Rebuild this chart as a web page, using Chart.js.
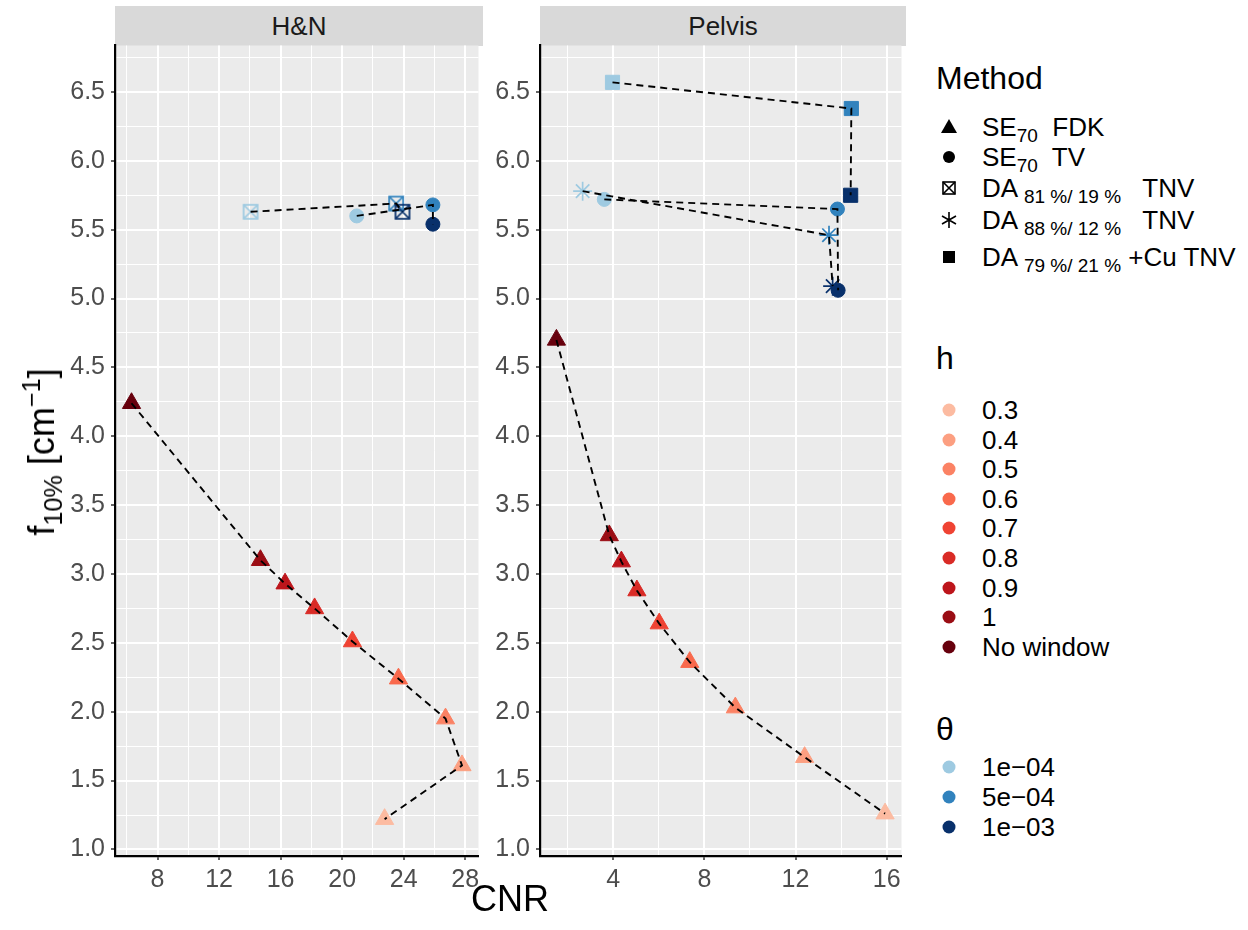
<!DOCTYPE html>
<html>
<head>
<meta charset="utf-8">
<script src="https://cdn.jsdelivr.net/npm/chart.js@4.4.1/dist/chart.umd.min.js"></script>
<style>
  body { margin: 0; background: #fff; font-family: "Liberation Sans", Arial, sans-serif; }
  #wrap { position: relative; width: 1248px; height: 930px; overflow: hidden; }
  .panel { position: absolute; }
  .strip { position: absolute; background: #D9D9D9; color: #1A1A1A; font-size: 26px; text-align: center; line-height: 40px; }
  .ttl { position: absolute; color: #000; font-size: 36px; white-space: nowrap; }
  .sb { font-size: 0.7em; position: relative; top: 0.3em; }
  .sp { font-size: 0.7em; position: relative; top: -0.55em; }
  .lg-title { position: absolute; font-size: 32px; color: #000; line-height: 36px; }
  .lg-row { position: absolute; left: 938px; height: 28px; font-size: 26px; color: #000; white-space: nowrap; }
  .lg-row svg { position: absolute; left: 0; top: 3px; }
  .lg-row span.t { position: absolute; left: 44px; top: 0; line-height: 28px; }
  .lg-row .sb { font-size: 19px; top: 6px; }
</style>
</head>
<body>
<div id="wrap">
  <div class="strip" style="left:115px;top:6px;width:368px;height:40px;">H&amp;N</div>
  <div class="strip" style="left:540px;top:6px;width:366px;height:40px;">Pelvis</div>
  <canvas id="hn" class="panel" width="490" height="862" style="left:0;top:34px;"></canvas>
  <canvas id="pel" class="panel" width="488" height="862" style="left:425px;top:34px;"></canvas>
  <div class="ttl" style="left:42px;top:452px;transform:translate(-50%,-50%) rotate(-90deg);">f<span class="sb">10%</span> [cm<span class="sp">&minus;1</span>]</div>
  <div class="ttl" style="left:510px;top:878px;transform:translateX(-50%);">CNR</div>
  <div id="legend"></div>
</div>
<script>
// colour scales
const hLevels = ['0.3', '0.4', '0.5', '0.6', '0.7', '0.8', '0.9', '1', 'No window'];
const hColors = ['#FCBBA1', '#FC9F81', '#FB8264', '#F9694C', '#EF4333', '#D92B26', '#BD151B', '#9A0D14', '#67000D'];
const thetaLevels = ['1e\u221204', '5e\u221204', '1e\u221203'];
const thetaColors = ['#9ECAE1', '#3182BD', '#08306B'];

// SE70 FDK, h goes No window -> 0.3
const fdkH = ['No window', '1', '0.9', '0.8', '0.7', '0.6', '0.5', '0.4', '0.3'];
const hnFdkCnr = [6.31, 14.69, 16.29, 18.21, 20.67, 23.66, 26.72, 27.79, 22.76];
const hnFdkF10 = [4.24, 3.10, 2.93, 2.75, 2.51, 2.24, 1.95, 1.61, 1.22];
const pelFdkCnr = [1.51, 3.83, 4.36, 5.04, 6.02, 7.36, 9.36, 12.40, 15.93];
const pelFdkF10 = [4.70, 3.28, 3.09, 2.88, 2.64, 2.36, 2.03, 1.67, 1.26];

// iterative methods, theta 1e-04, 5e-04, 1e-03
const hnTvCnr = [20.95, 25.90, 25.90];
const hnTvF10 = [5.60, 5.68, 5.54];
const hnDa81Cnr = [14.05, 23.51, 23.92];
const hnDa81F10 = [5.63, 5.69, 5.63];
const pelTvCnr = [3.61, 13.84, 13.87];
const pelTvF10 = [5.72, 5.65, 5.06];
const pelDa88Cnr = [2.66, 13.47, 13.63];
const pelDa88F10 = [5.78, 5.46, 5.09];
const pelDaCuCnr = [3.97, 14.45, 14.42];
const pelDaCuF10 = [6.57, 6.38, 5.75];

// tick labels
const hnXTicks = [8, 12, 16, 20, 24, 28];
const pelXTicks = [4, 8, 12, 16];
const yTicks = [1.0, 1.5, 2.0, 2.5, 3.0, 3.5, 4.0, 4.5, 5.0, 5.5, 6.0, 6.5];

const FONT = '"Liberation Sans", Arial, sans-serif';

function pts(xs, ys) {
  return xs.map((x, i) => ({ x: x, y: ys[i] }));
}

// open square with an X (ggplot shape 7)
function boxX(color) {
  const c = document.createElement('canvas');
  c.width = 18; c.height = 18;
  const g = c.getContext('2d');
  g.strokeStyle = color; g.lineWidth = 1.7;
  g.strokeRect(2, 2, 14, 14);
  g.beginPath();
  g.moveTo(2, 2); g.lineTo(16, 16);
  g.moveTo(16, 2); g.lineTo(2, 16);
  g.stroke();
  return c;
}

function group(xs, ys, style, colors, radius, bw) {
  const data = pts(xs, ys);
  return [
    { data: data, showLine: true, borderColor: '#000', borderWidth: 1.9, borderDash: [7, 5],
      pointRadius: 0, order: 0 },
    { data: data, showLine: false, pointStyle: style, pointRadius: radius,
      backgroundColor: colors, borderColor: colors, borderWidth: bw, order: 1 }
  ];
}

function range(vals) {
  const lo = Math.min(...vals), hi = Math.max(...vals);
  const pad = (hi - lo) * 0.05;
  return [lo - pad, hi + pad];
}

const allF10 = [].concat(hnFdkF10, pelFdkF10, hnTvF10, hnDa81F10, pelTvF10, pelDa88F10, pelDaCuF10);
const yRange = range(allF10);

function near(v, arr) {
  return arr.some(a => Math.abs(a - v) < 1e-6);
}

const panelBg = {
  id: 'panelBg',
  beforeDraw(chart) {
    const a = chart.chartArea, c = chart.ctx;
    c.save();
    c.fillStyle = '#EBEBEB';
    c.fillRect(a.left, a.top, a.right - a.left, a.bottom - a.top);
    c.restore();
  }
};

function axis(min, max, step, majors, isX) {
  return {
    type: 'linear',
    min: min, max: max,
    afterFit: s => {
      if (isX) s.height = 40; else s.width = 115;
      s.paddingTop = 0; s.paddingBottom = 0; s.paddingLeft = 0; s.paddingRight = 0;
    },
    border: { display: true, color: '#000', width: 2.2 },
    grid: {
      color: '#FFFFFF',
      lineWidth: ctx => near(ctx.tick.value, majors) ? 2 : 1,
      tickColor: ctx => near(ctx.tick.value, majors) ? '#333333' : 'rgba(0,0,0,0)',
      tickLength: 4,
      tickWidth: 1.5
    },
    ticks: {
      stepSize: step,
      includeBounds: false,
      autoSkip: false,
      maxRotation: 0,
      padding: isX ? 5 : 6,
      color: '#4D4D4D',
      font: { family: FONT, size: 25 },
      callback: v => near(v, majors) ? (isX ? String(v) : v.toFixed(1)) : ''
    }
  };
}

function makeChart(id, datasets, xVals, xMajors, padRight) {
  const xr = range(xVals);
  return new Chart(document.getElementById(id), {
    type: 'scatter',
    data: { datasets: datasets },
    options: {
      responsive: false,
      animation: false,
      devicePixelRatio: 1,
      layout: { padding: { top: 0, right: padRight, bottom: 0, left: 0 } },
      plugins: { legend: { display: false }, tooltip: { enabled: false } },
      scales: {
        x: axis(xr[0], xr[1], 2, xMajors, true),
        y: axis(yRange[0], yRange[1], 0.25, yTicks, false)
      }
    },
    plugins: [panelBg]
  });
}

const fdkColors = fdkH.map(h => hColors[hLevels.indexOf(h)]);

makeChart('hn', [].concat(
  group(hnFdkCnr, hnFdkF10, 'triangle', fdkColors, 10.5, 1),
  group(hnTvCnr, hnTvF10, 'circle', thetaColors, 7, 1),
  group(hnDa81Cnr, hnDa81F10, thetaColors.map(boxX), thetaColors, 9, 1)
), [].concat(hnFdkCnr, hnTvCnr, hnDa81Cnr), hnXTicks, 7);

makeChart('pel', [].concat(
  group(pelFdkCnr, pelFdkF10, 'triangle', fdkColors, 10.5, 1),
  group(pelTvCnr, pelTvF10, 'circle', thetaColors, 7, 1),
  group(pelDa88Cnr, pelDa88F10, 'star', thetaColors, 9.5, 1.7),
  group(pelDaCuCnr, pelDaCuF10, 'rect', thetaColors, 10, 1)
), [].concat(pelFdkCnr, pelTvCnr, pelDa88Cnr, pelDaCuCnr), pelXTicks, 7);

// legends
const legend = document.getElementById('legend');
function addTitle(html, top) {
  const d = document.createElement('div');
  d.className = 'lg-title';
  d.style.left = '936px';
  d.style.top = top + 'px';
  d.innerHTML = html;
  legend.appendChild(d);
}
function addRow(svg, html, center) {
  const d = document.createElement('div');
  d.className = 'lg-row';
  d.style.top = (center - 14) + 'px';
  d.innerHTML = '<svg width="22" height="22" viewBox="0 0 22 22">' + svg + '</svg><span class="t">' + html + '</span>';
  legend.appendChild(d);
}

const methodSymbols = [
  '<polygon points="11,3 19,17 3,17" fill="#000"/>',
  '<circle cx="11" cy="11" r="6" fill="#000"/>',
  '<rect x="5" y="5" width="12" height="12" fill="none" stroke="#000" stroke-width="1.6"/><path d="M5 5L17 17M17 5L5 17" stroke="#000" stroke-width="1.6"/>',
  '<path d="M11 3V19M4 7L18 15M18 7L4 15" stroke="#000" stroke-width="1.6"/>',
  '<rect x="5" y="5" width="12" height="12" fill="#000"/>'
];
const methodLabels = [
  'SE<span class="sb">70</span>&nbsp; FDK',
  'SE<span class="sb">70</span>&nbsp; TV',
  'DA <span class="sb">81 %/ 19 %</span>&nbsp;&nbsp; TNV',
  'DA <span class="sb">88 %/ 12 %</span>&nbsp;&nbsp; TNV',
  'DA <span class="sb">79 %/ 21 %</span> +Cu TNV'
];
const methodRows = [127, 157, 188, 220, 257];

addTitle('Method', 60);
methodLabels.forEach((lab, i) => addRow(methodSymbols[i], lab, methodRows[i]));

addTitle('h', 340);
hLevels.forEach((lab, i) => addRow('<circle cx="11" cy="11" r="6.5" fill="' + hColors[i] + '"/>', lab, 410 + i * 29.6));

addTitle('&theta;', 711);
thetaLevels.forEach((lab, i) => addRow('<circle cx="11" cy="11" r="6.5" fill="' + thetaColors[i] + '"/>', lab, 767 + i * 30));
</script>
</body>
</html>
